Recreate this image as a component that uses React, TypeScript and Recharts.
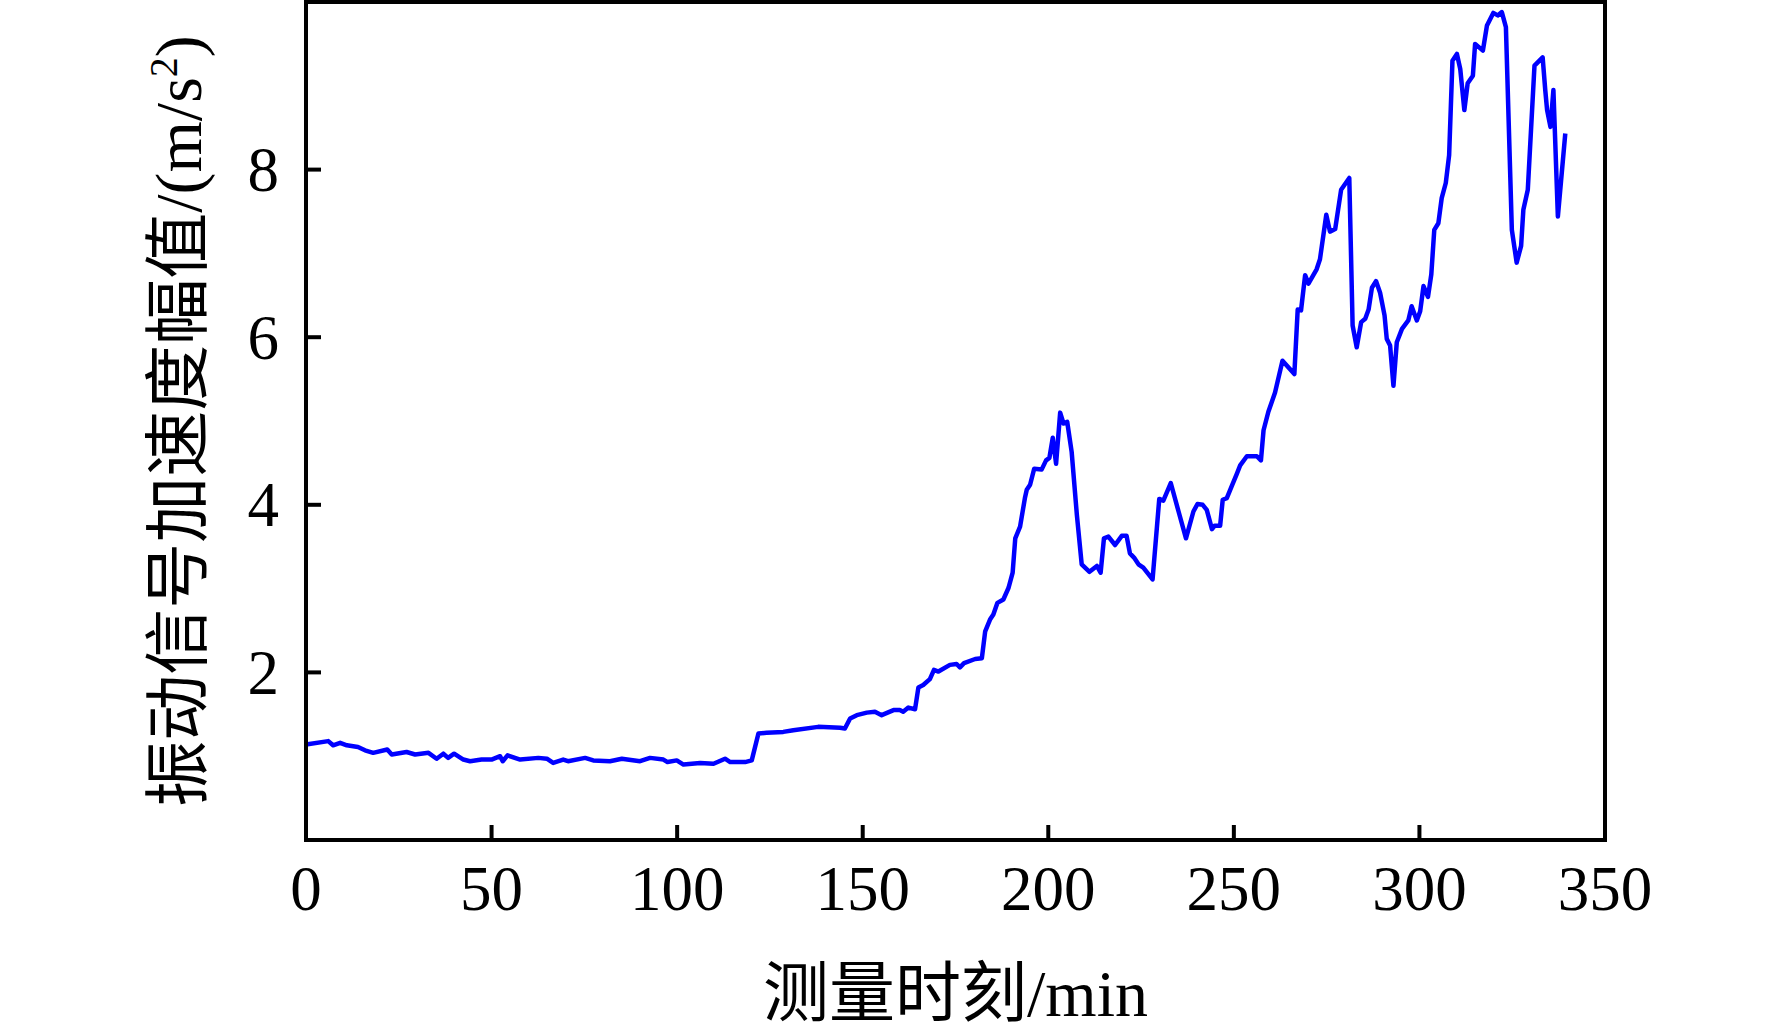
import React from "react";
import { Line, LineChart, XAxis, YAxis } from "recharts";

const TIME = [
  0, 6, 7.3, 9.2, 11, 14, 15.9, 18.1, 21.9, 23.1, 27.1, 29.4, 33, 35.2, 37, 38.3, 39.9, 42.4, 44.2,
  47.3, 50, 52.3, 53, 54.3, 57.7, 62.6, 64.9, 66.6, 69.3, 70.6, 75.2, 77.4, 81.9, 85.1, 90, 92.7,
  96.3, 97.4, 99.9, 101.7, 106.2, 109.8, 112.9, 114.3, 118.3, 120.1, 121.9, 124.1, 128.6, 131.3,
  138, 143.9, 145.2, 146.6, 148.4, 151.1, 153.3, 155.1, 158.3, 160, 160.9, 162.3, 164.1, 165,
  166.3, 168.1, 169.2, 170.4, 173.5, 175.3, 176.2, 177.3, 180.3, 182.1, 183, 184.3, 185.2, 186.3,
  187.9, 189.3, 190.4, 191.1, 192.4, 193.7, 194.2, 195.1, 196.2, 198.2, 199.4, 200.3, 201.2,
  202.1, 203.2, 204.1, 205.1, 206.3, 207.7, 209, 211.1, 213.1, 214.1, 215, 216.2, 218, 219.8,
  221.1, 222, 223.1, 224.3, 225.6, 228.1, 229.9, 231, 233, 235.1, 237.1, 239.1, 240.2, 241.6,
  242.7, 244.1, 244.8, 246.3, 247, 248.1, 249.4, 250.8, 251.7, 253.5, 256.2, 257.3, 258, 259.3,
  261.1, 263.1, 266.3, 267.2, 268.1, 269.2, 270.1, 272.3, 273.2, 274.9, 275.9, 277.3, 278.9,
  281.1, 282, 283.1, 284.3, 285.4, 286.3, 287.2, 288.3, 289.4, 290.6, 291.2, 292.1, 293, 293.9,
  295.3, 297, 297.9, 299.3, 300.2, 301.1, 302.3, 303.2, 304, 305.1, 306, 307.1, 308, 308.9, 310.1,
  311, 312.1, 313, 314.4, 315, 317.1, 318.2, 319.9, 321.1, 322.2, 323.3, 324.9, 326.2, 327.4, 328,
  329.2, 331, 333.2, 333.9, 334.4, 335.3, 336.1, 337.3, 339.3,
];

const AMPLITUDE = [
  1.14, 1.18, 1.13, 1.16, 1.13, 1.11, 1.07, 1.04, 1.08, 1.02, 1.05, 1.02, 1.04, 0.97, 1.03, 0.98,
  1.03, 0.96, 0.94, 0.96, 0.96, 1.0, 0.94, 1.01, 0.96, 0.98, 0.97, 0.92, 0.96, 0.94, 0.98, 0.95,
  0.94, 0.97, 0.94, 0.98, 0.96, 0.93, 0.95, 0.9, 0.92, 0.91, 0.97, 0.93, 0.93, 0.95, 1.27, 1.28,
  1.29, 1.31, 1.35, 1.34, 1.33, 1.45, 1.49, 1.52, 1.53, 1.49, 1.55, 1.55, 1.53, 1.58, 1.56, 1.82,
  1.85, 1.92, 2.03, 2.01, 2.09, 2.1, 2.06, 2.11, 2.16, 2.17, 2.49, 2.63, 2.69, 2.83, 2.87, 3.01,
  3.19, 3.6, 3.74, 4.08, 4.18, 4.24, 4.43, 4.42, 4.53, 4.56, 4.8, 4.49, 5.1, 4.97, 4.99, 4.63, 3.88,
  3.29, 3.2, 3.27, 3.19, 3.6, 3.62, 3.52, 3.63, 3.63, 3.42, 3.37, 3.29, 3.25, 3.11, 4.07, 4.05,
  4.26, 3.92, 3.6, 3.92, 4.01, 4.0, 3.94, 3.71, 3.75, 3.75, 4.06, 4.08, 4.22, 4.37, 4.47, 4.58,
  4.58, 4.53, 4.89, 5.11, 5.34, 5.72, 5.56, 6.33, 6.32, 6.74, 6.64, 6.81, 6.93, 7.46, 7.26, 7.29,
  7.76, 7.9, 6.14, 5.88, 6.18, 6.22, 6.33, 6.59, 6.67, 6.53, 6.26, 5.98, 5.9, 5.42, 5.94, 6.1, 6.2,
  6.37, 6.2, 6.31, 6.61, 6.48, 6.75, 7.28, 7.36, 7.66, 7.84, 8.17, 9.3, 9.38, 9.2, 8.71, 9.03,
  9.12, 9.5, 9.42, 9.72, 9.87, 9.84, 9.88, 9.7, 7.28, 6.89, 7.09, 7.52, 7.76, 9.24, 9.34, 8.95,
  8.71, 8.51, 8.95, 7.44, 8.43,
];

const X_TICKS = [0, 50, 100, 150, 200, 250, 300, 350];
const Y_TICKS = [2, 4, 6, 8];

const data = TIME.map((t, i) => ({ t, v: AMPLITUDE[i] }));

const FONT = '"Liberation Serif", "Times New Roman", "Noto Sans CJK SC", serif';
const AXIS = { stroke: "#000", strokeWidth: 4, strokeLinecap: "square" as const };
const TICK_LEN = 15;
// tickSize + tickMargin, so the custom ticks can find the axis line again
const X_TICK_GAP = 25;
const Y_TICK_GAP = 27;

function BottomTick({ x, y, payload }: any) {
  const axisY = y - X_TICK_GAP;
  return (
    <g>
      <line x1={x} x2={x} y1={axisY} y2={axisY - TICK_LEN} stroke="#000" strokeWidth={4} />
      <text x={x} y={y} dy="0.71em" textAnchor="middle" fontSize={63} fontFamily={FONT} fill="#000">
        {payload.value}
      </text>
    </g>
  );
}

function LeftTick({ x, y, payload }: any) {
  const axisX = x + Y_TICK_GAP;
  return (
    <g>
      <line x1={axisX} x2={axisX + TICK_LEN} y1={y} y2={y} stroke="#000" strokeWidth={4} />
      <text x={x} y={y} dy="0.34em" textAnchor="end" fontSize={63} fontFamily={FONT} fill="#000">
        {payload.value}
      </text>
    </g>
  );
}

function XTitle({ viewBox }: any) {
  const cx = viewBox.x + viewBox.width / 2;
  return (
    <text x={cx} y={1016} textAnchor="middle" fontSize={66} fontFamily={FONT} fill="#000">
      测量时刻/min
    </text>
  );
}

function YTitle({ viewBox }: any) {
  const cy = viewBox.y + viewBox.height / 2;
  return (
    <text
      transform={`translate(201 ${cy}) rotate(-90)`}
      textAnchor="middle"
      fontSize={66}
      fontFamily={FONT}
      fill="#000"
    >
      振动信号加速度幅值/(m/s
      <tspan dy={-24} fontSize={40}>
        2
      </tspan>
      <tspan dy={24}>)</tspan>
    </text>
  );
}

export default function App() {
  return (
    <div style={{ position: "absolute", left: 0, top: 0, width: 1772, height: 1032, background: "#fff" }}>
      <LineChart width={1772} height={1032} data={data} margin={{ top: 2, right: 167, bottom: 0, left: 0 }}>
        <XAxis
          dataKey="t"
          type="number"
          domain={[0, 350]}
          ticks={X_TICKS}
          height={192}
          axisLine={AXIS}
          tickLine={false}
          tickSize={10}
          tickMargin={15}
          tick={BottomTick}
          label={{ content: XTitle }}
        />
        <XAxis
          xAxisId="top"
          orientation="top"
          mirror
          type="number"
          domain={[0, 350]}
          ticks={X_TICKS}
          tick={false}
          tickSize={TICK_LEN}
          tickLine={{ stroke: "#000", strokeWidth: 4 }}
          axisLine={AXIS}
        />
        <YAxis
          type="number"
          domain={[0, 10]}
          ticks={Y_TICKS}
          width={306}
          axisLine={AXIS}
          tickLine={false}
          tickSize={10}
          tickMargin={17}
          tick={LeftTick}
          label={{ content: YTitle }}
        />
        <YAxis
          yAxisId="right"
          orientation="right"
          mirror
          type="number"
          domain={[0, 10]}
          ticks={Y_TICKS}
          tick={false}
          tickSize={TICK_LEN}
          tickLine={{ stroke: "#000", strokeWidth: 4 }}
          axisLine={AXIS}
        />
        <Line
          type="linear"
          dataKey="v"
          stroke="#0000ff"
          strokeWidth={4.5}
          strokeLinejoin="round"
          dot={false}
          isAnimationActive={false}
        />
      </LineChart>
    </div>
  );
}
